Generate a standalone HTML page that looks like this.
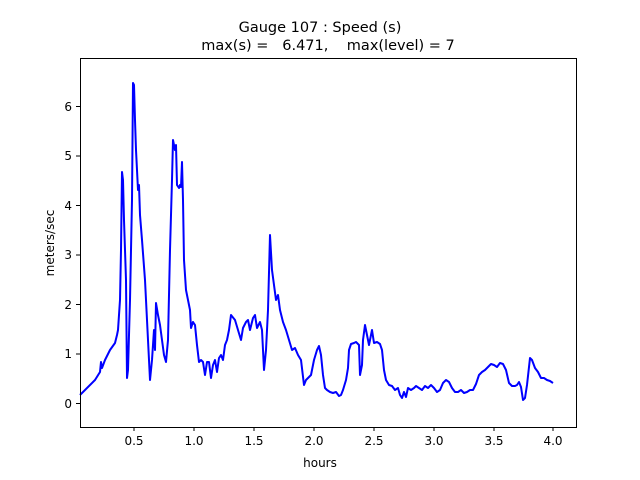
<!DOCTYPE html>
<html><head><meta charset="utf-8"><style>body{margin:0;background:#fff}svg{display:block}</style></head><body>
<svg width="640" height="480" xmlns="http://www.w3.org/2000/svg" font-family="DejaVu Sans, Liberation Sans, sans-serif">
<rect width="640" height="480" fill="#fff"/>
<text x="320" y="32" font-size="14.5" text-anchor="middle">Gauge 107 : Speed (s)</text>
<text x="328" y="50" font-size="14.5" text-anchor="middle" xml:space="preserve">max(s) =   6.471,    max(level) = 7</text>
<polyline fill="none" stroke="#0000ff" stroke-width="2" stroke-linejoin="round" points="80,395 95,380 100,372 101,362 102,368 105,360 110,350 115,343 117,335 118,330 120,300 121,250 122,172 123,180 124,220 126,280 127,378 128,370 130,300 132,200 133,83 134,85 135,120 136,150 138,190 139,185 140,215 142,240 145,280 148,340 150,380 152,360 154,330 155,350 156,303 158,315 160,325 162,340 164,355 166,362 168,340 170,250 172,180 173,140 175,150 176,145 177,185 179,188 180,185 181,187 182,162 183,200 184,260 186,290 188,300 190,310 191,328 193,322 195,325 197,345 199,362 201,360 203,362 205,375 207,362 209,362 211,378 213,365 215,360 217,372 219,358 221,355 223,360 225,345 227,340 229,330 231,315 235,320 238,330 241,340 243,328 246,322 248,320 250,330 253,318 255,315 257,328 260,322 262,330 264,370 266,350 268,310 270,235 272,270 274,285 276,300 278,295 280,310 283,322 286,330 289,340 292,350 295,348 298,355 301,360 304,385 306,380 308,378 311,375 314,360 317,350 319,346 321,355 323,375 325,388 327,390 330,392 333,393 336,392 339,396 341,395 343,390 346,380 348,368 349,350 351,344 354,343 356,342 359,345 360,375 362,365 363,340 365,325 367,335 369,345 372,330 374,343 377,342 380,344 382,350 384,370 386,380 389,385 392,386 395,390 398,388 400,395 402,398 404,392 406,397 408,388 411,390 414,388 416,386 419,388 422,390 425,386 428,388 431,385 434,388 437,392 440,390 443,383 446,380 449,382 452,388 455,392 458,392 461,390 464,393 467,392 470,390 473,390 476,384 479,375 482,372 485,370 488,367 491,364 494,365 497,367 500,363 503,364 506,370 509,383 512,386 515,386 517,385 519,382 521,387 523,400 525,398 527,385 530,358 532,360 535,368 538,372 541,378 544,378 547,380 550,381 553,383"/>
<rect x="80.5" y="58.5" width="496" height="369" fill="none" stroke="#000" stroke-width="1"/>
<g stroke="#000" stroke-width="1">
<line x1="134" y1="427" x2="134" y2="431"/><line x1="194" y1="427" x2="194" y2="431"/><line x1="254" y1="427" x2="254" y2="431"/><line x1="314" y1="427" x2="314" y2="431"/><line x1="374" y1="427" x2="374" y2="431"/><line x1="434" y1="427" x2="434" y2="431"/><line x1="494" y1="427" x2="494" y2="431"/><line x1="553" y1="427" x2="553" y2="431"/>
<line x1="76" y1="403.5" x2="80" y2="403.5"/><line x1="76" y1="354" x2="80" y2="354"/><line x1="76" y1="304.5" x2="80" y2="304.5"/><line x1="76" y1="255" x2="80" y2="255"/><line x1="76" y1="205.5" x2="80" y2="205.5"/><line x1="76" y1="156" x2="80" y2="156"/><line x1="76" y1="106.5" x2="80" y2="106.5"/>
</g>
<g font-size="12" text-anchor="middle">
<text x="134" y="445">0.5</text><text x="194" y="445">1.0</text><text x="254" y="445">1.5</text><text x="314" y="445">2.0</text><text x="374" y="445">2.5</text><text x="434" y="445">3.0</text><text x="494" y="445">3.5</text><text x="553" y="445">4.0</text>
<text x="320" y="467">hours</text>
</g>
<g font-size="12" text-anchor="end">
<text x="72" y="408">0</text><text x="72" y="358">1</text><text x="72" y="309">2</text><text x="72" y="259">3</text><text x="72" y="210">4</text><text x="72" y="160">5</text><text x="72" y="111">6</text>
</g>
<text transform="translate(54,243) rotate(-90)" font-size="12" text-anchor="middle">meters/sec</text>
</svg>
</body></html>
